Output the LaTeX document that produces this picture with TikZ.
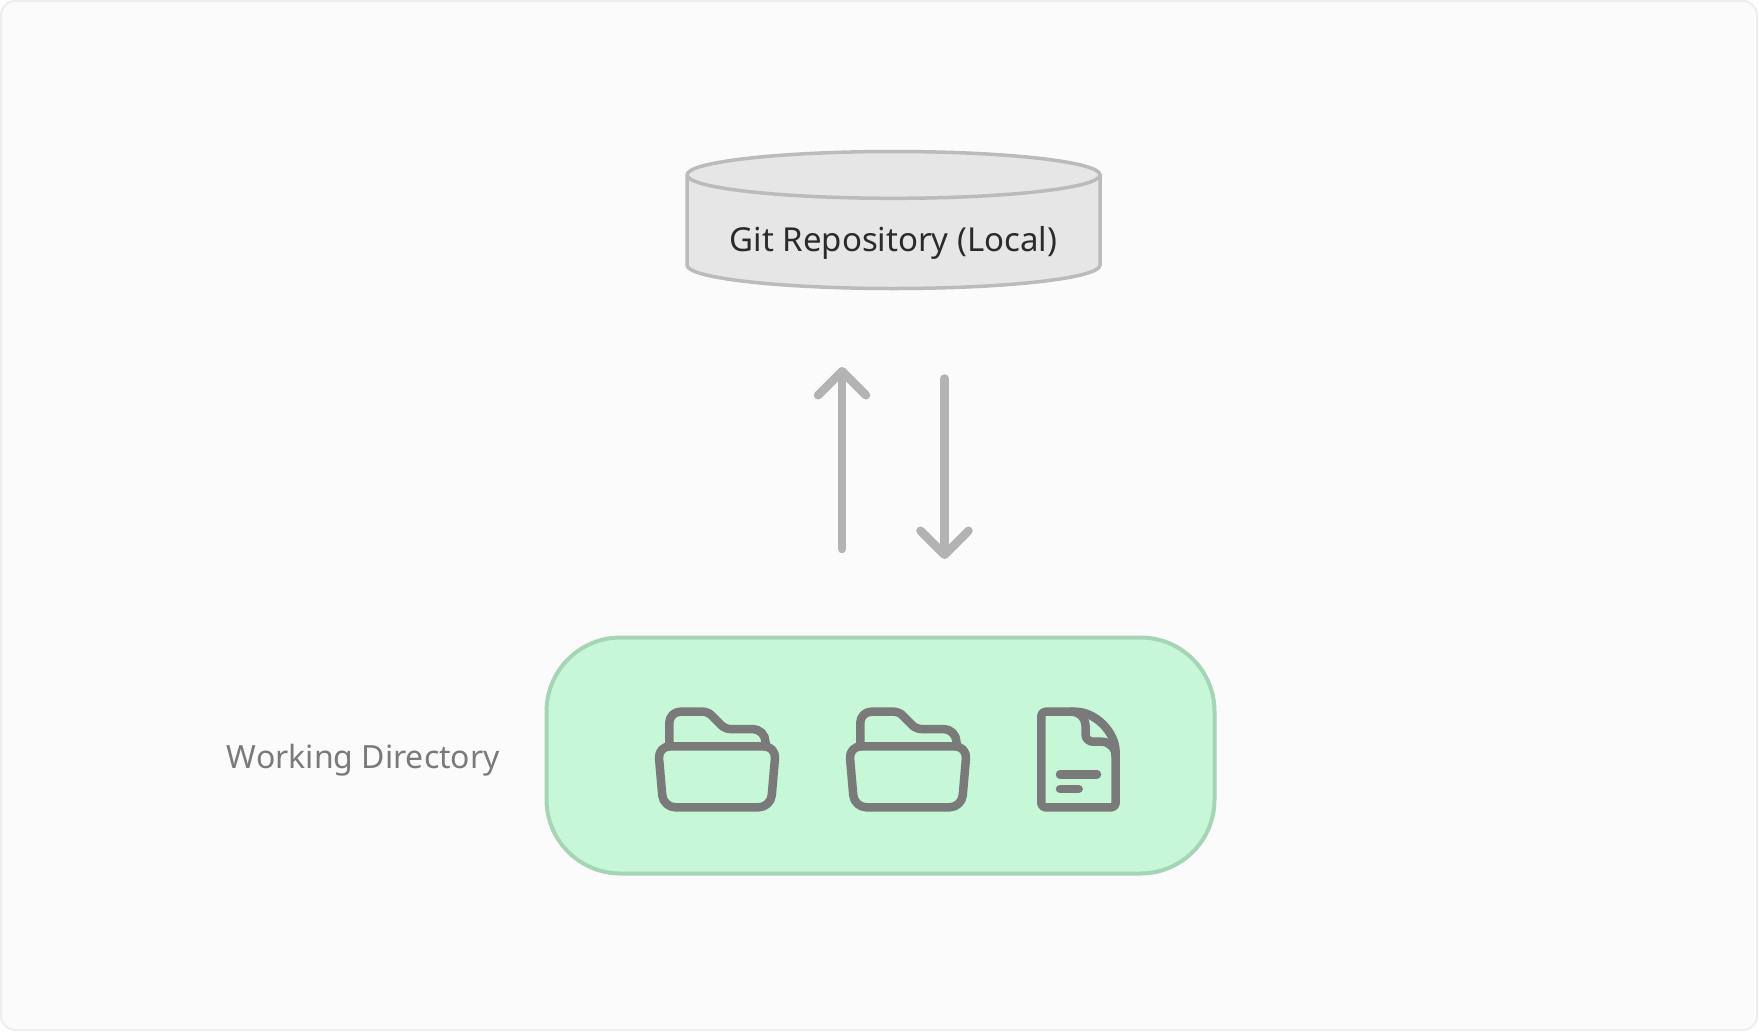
\documentclass[tikz,border=0pt]{standalone}
\usepackage{fontspec}
\setmainfont{Noto Sans}
\usetikzlibrary{positioning,shapes.geometric,arrows.meta}

\definecolor{pagefill}{HTML}{FBFBFB}
\definecolor{pageline}{HTML}{EEEEEE}
\definecolor{repofill}{HTML}{E6E6E6}
\definecolor{repoline}{HTML}{BBBBBB}
\definecolor{workfill}{HTML}{C6F7D6}
\definecolor{workline}{HTML}{A6D5B5}
\definecolor{arrowgray}{HTML}{B3B3B3}
\definecolor{icongray}{HTML}{7A7A7A}

\tikzset{
    x=1pt,y=-1pt,
    flow/.style={draw=arrowgray,line width=8.5pt,line cap=round,-{Straight Barb[length=24pt,width=48pt,round]}},
    iconline/.style={draw=icongray,line width=8.5pt,line cap=round,line join=round},
    foldericon/.pic={
        \draw[iconline] (29.3,66.3) [rounded corners=11] -- (29.3,31.7) [rounded corners=5] -- (68,31.7) -- (85,49) [rounded corners=13] -- (125.5,49) -- (125.5,66.3);
        \draw[iconline,rounded corners=12] (77,66.3) -- (136,66.3) -- (130.7,127.3) -- (23.3,127.3) -- (18,66.3) -- cycle;
    },
    fileicon/.pic={
        \draw[iconline,rounded corners=4] (0,79) -- (0,31.7) -- (30,31.7) .. controls (54,31.7) and (74.3,52) .. (74.3,76) -- (74.3,127.3) -- (0,127.3) -- cycle;
        \draw[iconline] (30,31.7) .. controls (38,31.7) and (44.3,38) .. (44.3,46.7) -- (44.3,55) .. controls (44.3,59) and (48,61.7) .. (52,61.7) -- (60.3,61.7) .. controls (68,61.7) and (74.3,68) .. (74.3,76);
        \draw[iconline] (18.7,94.3) -- (55.7,94.3);
        \draw[iconline] (18.7,109) -- (37.3,109);
    },
}

\begin{document}
\begin{tikzpicture}
        \useasboundingbox (0,0) rectangle (1758,1031);
        \fill[white] (0,0) rectangle (1758,1031);
        \draw[fill=pagefill,draw=pageline,line width=2pt,rounded corners=14] (1,1) rectangle (1757,1030);

        \node[draw=repoline,line width=3.5pt,cylinder,shape border rotate=90,aspect=0.14,minimum width=413pt,minimum height=137pt,outer sep=0pt,anchor=shape center,
            cylinder uses custom fill,cylinder body fill=repofill,cylinder end fill=repofill,text=black!83,font=\fontsize{33}{38}\selectfont](repo)at(893.5,220){\raisebox{-17pt}[12pt][12pt]{Git Repository (Local)}};

        \coordinate(upstart)at(842,549);
        \coordinate(upend)at(842,367);
        \coordinate(downstart)at(944.5,378.5);
        \coordinate(downend)at(944.5,559);
        \draw[flow] (upstart) -- (upend);
        \draw[flow] (downstart) -- (downend);

        \node[draw=workline,fill=workfill,line width=4pt,rounded corners=74,minimum width=668pt,minimum height=236pt,inner sep=0pt,outer sep=0pt](workdir)at(880.5,755.5){};
        \node[text=icongray,font=\fontsize{32}{38}\selectfont,inner sep=0pt,anchor=base east](worklabel)at(500,768){Working Directory};

        \pic at (640,680) {foldericon};
        \pic at (831,680) {foldericon};
        \pic at (1041.3,680) {fileicon};
    \end{tikzpicture}
\end{document}
